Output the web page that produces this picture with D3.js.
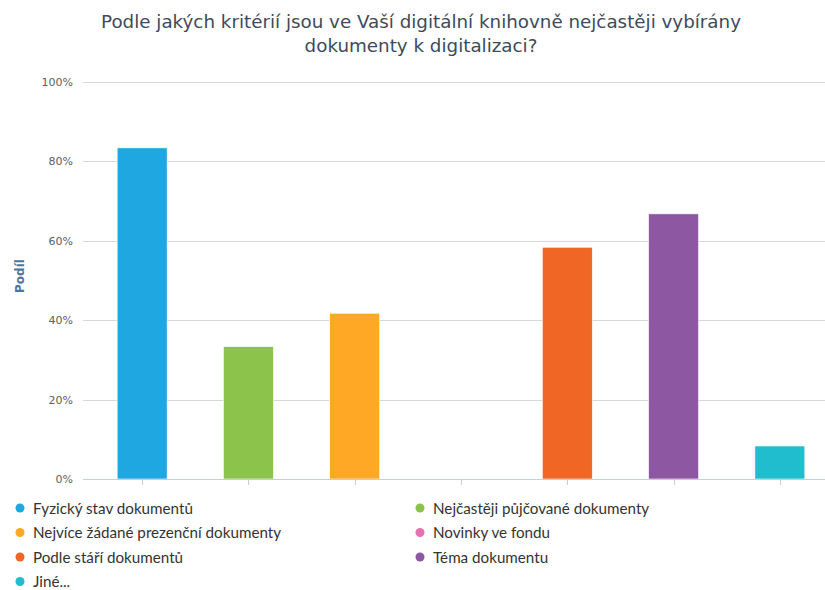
<!DOCTYPE html>
<html><head><meta charset="utf-8">
<script src="https://cdnjs.cloudflare.com/ajax/libs/d3/7.8.5/d3.min.js"></script>
<style>body{margin:0;background:#fff}svg{display:block}</style>
</head><body>
<svg id="c" width="825" height="590"></svg>
<script>
const titleLines = ["Podle jakých kritérií jsou ve Vaší digitální knihovně nejčastěji vybírány", "dokumenty k digitalizaci?"];
const categories = ["Fyzický stav dokumentů","Nejčastěji půjčované dokumenty","Nejvíce žádané prezenční dokumenty","Novinky ve fondu","Podle stáří dokumentů","Téma dokumentu","Jiné..."];
const values = [83.3, 33.3, 41.7, 0, 58.3, 66.7, 8.3];
const colors = ["#1ea7e1","#8cc34b","#fea826","#e871b2","#f06725","#8e57a1","#1fbdce"];
const yTicks = [0,20,40,60,80,100];
const yTitle = "Podíl";

const svg = d3.select("#c");
const x = d3.scaleBand().domain(categories).range([89, 833]).padding(0);
const y = d3.scaleLinear().domain([0,100]).range([479, 81.5]);
const barW = x.bandwidth()*0.47;

// title
svg.append("text").attr("text-anchor","middle")
  .attr("font-family","DejaVu Sans").attr("font-size",18.3).attr("fill","#3e4a5c")
  .selectAll("tspan").data(titleLines).join("tspan")
  .attr("x",421).attr("y",(d,i)=>28+i*24).text(d=>d);

// gridlines
svg.append("g").selectAll("line").data(yTicks.slice(1)).join("line")
  .attr("x1",83).attr("x2",825).attr("y1",d=>Math.round(y(d))+0.5).attr("y2",d=>Math.round(y(d))+0.5)
  .attr("stroke","#d8d8d8").attr("stroke-width",1);

// y labels
svg.append("g").selectAll("text").data(yTicks).join("text")
  .attr("x",73).attr("y",d=>y(d)+4).attr("text-anchor","end")
  .attr("font-family","DejaVu Sans").attr("font-size",11).attr("fill","#606060")
  .text(d=>d+"%");

svg.append("text").attr("transform","translate(24,276) rotate(-90)").attr("text-anchor","middle")
  .attr("font-family","DejaVu Sans").attr("font-size",12).attr("font-weight","bold").attr("fill","#4d759e")
  .text(yTitle);

// bars
svg.append("g").selectAll("rect").data(categories).join("rect")
  .attr("x",d=>x(d)+x.bandwidth()/2-barW/2).attr("width",barW)
  .attr("y",(d,i)=>y(values[i])).attr("height",(d,i)=>y(0)-y(values[i]))
  .attr("fill",(d,i)=>colors[i]).attr("stroke","#ffffff").attr("stroke-width",0.6);

// x axis
svg.append("line").attr("x1",83).attr("x2",825).attr("y1",479.5).attr("y2",479.5).attr("stroke","#c0d0e0");
svg.append("g").selectAll("line").data(categories).join("line")
  .attr("x1",d=>Math.round(x(d)+x.bandwidth()/2)+0.5).attr("x2",d=>Math.round(x(d)+x.bandwidth()/2)+0.5)
  .attr("y1",480).attr("y2",485).attr("stroke","#c0d0e0");

// legend
const lg = svg.append("g").selectAll("g").data(categories).join("g")
  .attr("transform",(d,i)=>`translate(${i%2===0?20:420},${508+Math.floor(i/2)*24.5})`);
lg.append("circle").attr("r",4.5).attr("cx",0).attr("cy",0).attr("fill",(d,i)=>colors[i]);
lg.append("text").attr("x",13).attr("y",5.5).attr("font-family","Lato").attr("font-size",15.2)
  .attr("fill","#333").text(d=>d);
</script>
</body></html>
